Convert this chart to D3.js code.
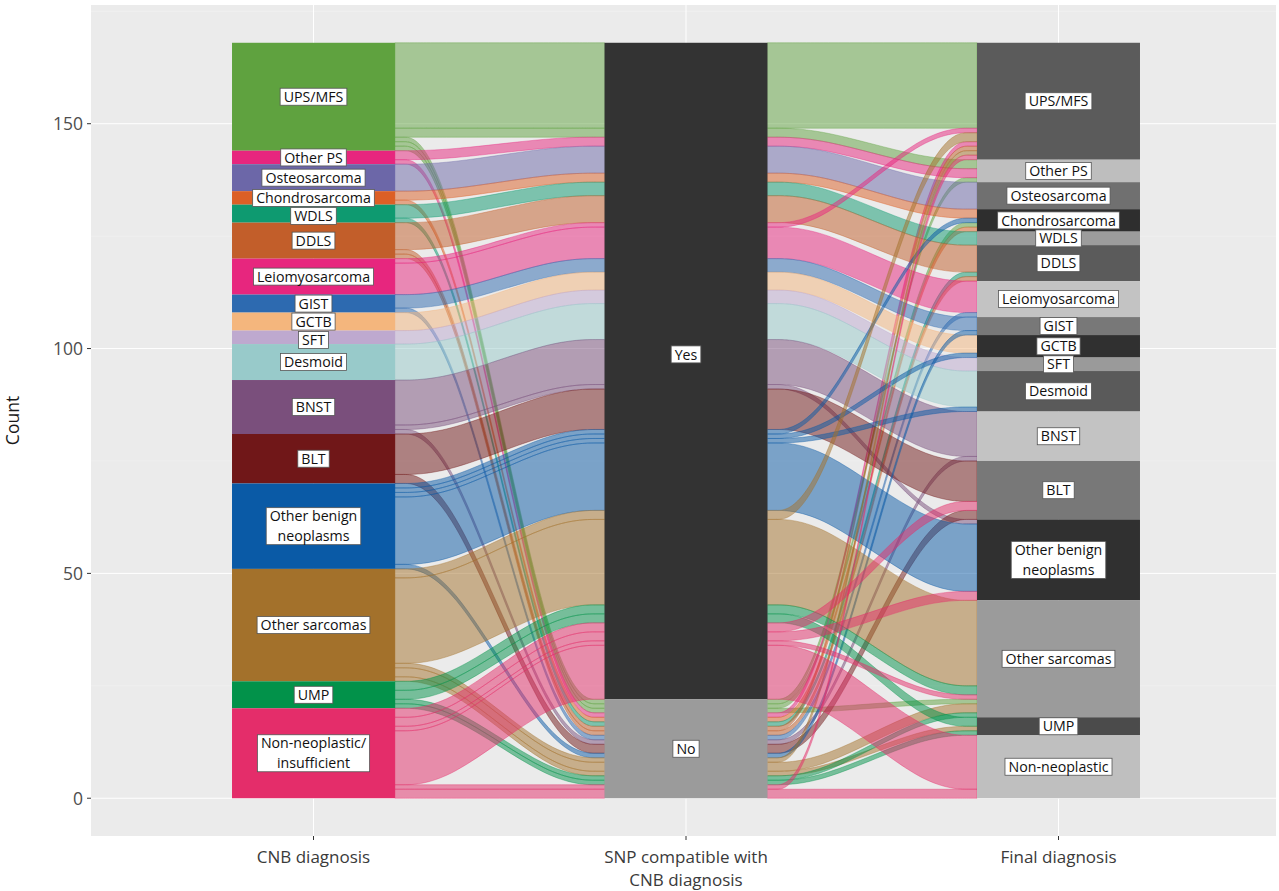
<!DOCTYPE html>
<html>
<head>
<meta charset="utf-8">
<script src="https://cdn.jsdelivr.net/npm/d3@7"></script>
<style>
  body { margin: 0; background: #ffffff; }
  svg text { font-family: "Open Sans", "Noto Sans", sans-serif; }
</style>
</head>
<body>
<svg id="chart" width="1279" height="891"></svg>
<script>
// ---- Axes (x positions of the three strata columns) ----
const axisNames = ["CNB diagnosis", "SNP compatible with\nCNB diagnosis", "Final diagnosis"];

// ---- Stratum levels, top to bottom ----
const cnbLevels = ["UPS/MFS", "Other PS", "Osteosarcoma", "Chondrosarcoma", "WDLS", "DDLS",
  "Leiomyosarcoma", "GIST", "GCTB", "SFT", "Desmoid", "BNST", "BLT",
  "Other benign neoplasms", "Other sarcomas", "UMP", "Non-neoplastic/insufficient"];
const snpLevels = ["Yes", "No"];
const finalLevels = ["UPS/MFS", "Other PS", "Osteosarcoma", "Chondrosarcoma", "WDLS", "DDLS",
  "Leiomyosarcoma", "GIST", "GCTB", "SFT", "Desmoid", "BNST", "BLT",
  "Other benign neoplasms", "Other sarcomas", "UMP", "Non-neoplastic"];

// ---- Colours ----
const cnbColors = ["#5FA23F", "#E7267E", "#6C67A8", "#DC5F26", "#0E9A70", "#C25E2A",
  "#E7267E", "#2D6AB0", "#F4B67D", "#BEA9CF", "#98CACA", "#7A4F7C", "#701718",
  "#0A5AA6", "#A3712B", "#02924A", "#E42D6A"];
const snpGrays = ["#333333", "#9B9B9B"];
const finalGrays = ["#5B5B5B", "#BEBEBE", "#707070", "#2E2E2E", "#9C9C9C", "#5B5B5B",
  "#C3C3C3", "#787878", "#303030", "#9A9A9A", "#5A5A5A", "#C3C3C3", "#787878",
  "#303030", "#9B9B9B", "#4B4B4B", "#BFBFBF"];

// ---- Cases: [CNB diagnosis, final diagnosis, count] ----
// SNP profile compatible with the CNB diagnosis
const compatibleCases = [
  ["UPS/MFS", "UPS/MFS", 19],
  ["UPS/MFS", "Other PS", 2],
  ["Other PS", "Other PS", 2],
  ["Osteosarcoma", "Osteosarcoma", 6],
  ["Chondrosarcoma", "Chondrosarcoma", 2],
  ["WDLS", "WDLS", 3],
  ["DDLS", "DDLS", 6],
  ["Leiomyosarcoma", "UPS/MFS", 1],
  ["Leiomyosarcoma", "Leiomyosarcoma", 7],
  ["GIST", "GIST", 3],
  ["GCTB", "GCTB", 4],
  ["SFT", "SFT", 3],
  ["Desmoid", "Desmoid", 8],
  ["BNST", "BNST", 10],
  ["BNST", "Other benign neoplasms", 1],
  ["BLT", "BLT", 9],
  ["Other benign neoplasms", "Chondrosarcoma", 1],
  ["Other benign neoplasms", "GCTB", 1],
  ["Other benign neoplasms", "Desmoid", 1],
  ["Other benign neoplasms", "Other benign neoplasms", 15],
  ["Other sarcomas", "UPS/MFS", 2],
  ["Other sarcomas", "Other sarcomas", 19],
  ["UMP", "Other sarcomas", 2],
  ["UMP", "UMP", 2],
  ["Non-neoplastic/insufficient", "BLT", 2],
  ["Non-neoplastic/insufficient", "Other benign neoplasms", 2],
  ["Non-neoplastic/insufficient", "Other sarcomas", 1],
  ["Non-neoplastic/insufficient", "Non-neoplastic", 12]
];
// SNP profile not compatible with the CNB diagnosis
const incompatibleCases = [
  ["UPS/MFS", "Other PS", 1],
  ["UPS/MFS", "Chondrosarcoma", 1],
  ["UPS/MFS", "Other sarcomas", 1],
  ["Other PS", "UPS/MFS", 1],
  ["Chondrosarcoma", "Chondrosarcoma", 1],
  ["WDLS", "DDLS", 1],
  ["DDLS", "UPS/MFS", 1],
  ["DDLS", "DDLS", 1],
  ["GIST", "Leiomyosarcoma", 1],
  ["BNST", "BNST", 1],
  ["BLT", "BLT", 2],
  ["Other benign neoplasms", "GIST", 1],
  ["Other sarcomas", "UPS/MFS", 1],
  ["Other sarcomas", "Other sarcomas", 2],
  ["Other sarcomas", "UMP", 1],
  ["UMP", "Other sarcomas", 1],
  ["UMP", "UMP", 1],
  ["Non-neoplastic/insufficient", "UPS/MFS", 1],
  ["Non-neoplastic/insufficient", "Non-neoplastic", 2]
];

const yTicks = [0, 50, 100, 150];
const yMinor = [25, 75, 125, 175];
const yTitle = "Count";

// Label line breaks for long stratum names
const labelLines = {
  "Other benign neoplasms": ["Other benign", "neoplasms"],
  "Non-neoplastic/insufficient": ["Non-neoplastic/", "insufficient"]
};
// Labels nudged off their stratum centre ("axis:level" -> count value)
const labelValueOverride = { "1:Yes": 98.7, "0:WDLS": 129.5, "0:SFT": 101.9 };

// ---------------------------------------------------------------
const svg = d3.select("#chart");
const flows = [];
compatibleCases.forEach(([c, f, n]) => flows.push({ cnb: c, snp: "Yes", fin: f, n }));
incompatibleCases.forEach(([c, f, n]) => flows.push({ cnb: c, snp: "No", fin: f, n }));

const total = d3.sum(flows, d => d.n);
const panel = { left: 91, right: 1276, top: 5, bottom: 836 };
const y = d3.scaleLinear().domain([-0.05 * total, 1.05 * total]).range([panel.bottom, panel.top]);
const x = d3.scaleLinear().domain([1, 3]).range([313.5, 1058.5]);
const stratWidth = 0.4375; // in axis units
const halfW = (x(2) - x(1)) * stratWidth / 2;

const axes = [
  { key: "cnb", levels: cnbLevels, sortBy: ["snp", "fin"] },
  { key: "snp", levels: snpLevels, sortBy: ["cnb", "fin"] },
  { key: "fin", levels: finalLevels, sortBy: ["snp", "cnb"] }
];
const levelIndex = {
  cnb: new Map(cnbLevels.map((d, i) => [d, i])),
  snp: new Map(snpLevels.map((d, i) => [d, i])),
  fin: new Map(finalLevels.map((d, i) => [d, i]))
};

// Stack strata and lodes (top to bottom)
const strata = [];
axes.forEach((ax, ai) => {
  let cum = total;
  ax.levels.forEach((lvl, li) => {
    const members = flows.filter(f => f[ax.key] === lvl);
    const t = d3.sum(members, f => f.n);
    if (t === 0) return;
    strata.push({ axis: ai, level: lvl, li, top: cum, bottom: cum - t });
    members.sort((a, b) => {
      for (const k of ax.sortBy) {
        const d = levelIndex[k].get(a[k]) - levelIndex[k].get(b[k]);
        if (d !== 0) return d;
      }
      return 0;
    });
    let c = cum;
    members.forEach(f => {
      f.pos = f.pos || [];
      f.pos[ai] = { top: c, bottom: c - f.n };
      c -= f.n;
    });
    cum -= t;
  });
});

// ---- Panel & grid ----
svg.append("rect")
  .attr("x", panel.left).attr("y", panel.top)
  .attr("width", panel.right - panel.left).attr("height", panel.bottom - panel.top)
  .attr("fill", "#EBEBEB");

const grid = svg.append("g");
grid.selectAll("line.minor").data(yMinor.filter(v => y(v) > panel.top)).join("line")
  .attr("x1", panel.left).attr("x2", panel.right)
  .attr("y1", d => y(d)).attr("y2", d => y(d))
  .attr("stroke", "#F4F4F4").attr("stroke-width", 0.5);
grid.selectAll("line.major").data(yTicks).join("line")
  .attr("x1", panel.left).attr("x2", panel.right)
  .attr("y1", d => y(d)).attr("y2", d => y(d))
  .attr("stroke", "#FFFFFF").attr("stroke-width", 1);
grid.selectAll("line.vx").data([1, 2, 3]).join("line")
  .attr("x1", d => x(d)).attr("x2", d => x(d))
  .attr("y1", panel.top).attr("y2", panel.bottom)
  .attr("stroke", "#FFFFFF").attr("stroke-width", 1);

// ---- Flows ----
const area = d3.area()
  .x(d => d.x).y0(d => y(d.b)).y1(d => y(d.t))
  .curve(d3.curveBasis);
const knot = 0.25;
const flowG = svg.append("g");
const drawOrder = flows.slice().sort((a, b) => b.pos[0].top - a.pos[0].top);
drawOrder.forEach(f => {
  const color = cnbColors[levelIndex.cnb.get(f.cnb)];
  for (let i = 0; i < 2; i++) {
    const xa = x(i + 1) + halfW, xb = x(i + 2) - halfW;
    const dx = xb - xa;
    const pa = f.pos[i], pb = f.pos[i + 1];
    const pts = [
      { x: xa, t: pa.top, b: pa.bottom },
      { x: xa + dx * knot, t: pa.top, b: pa.bottom },
      { x: xb - dx * knot, t: pb.top, b: pb.bottom },
      { x: xb, t: pb.top, b: pb.bottom }
    ];
    flowG.append("path")
      .attr("d", area(pts))
      .attr("fill", color).attr("fill-opacity", 0.5)
      .attr("stroke", color).attr("stroke-opacity", 0.55).attr("stroke-width", 0.7);
  }
});

// ---- Strata ----
const strataG = svg.append("g");
strata.forEach(s => {
  let fill;
  if (s.axis === 0) fill = cnbColors[s.li];
  else if (s.axis === 1) fill = snpGrays[s.li];
  else fill = finalGrays[s.li];
  strataG.append("rect")
    .attr("x", x(s.axis + 1) - halfW).attr("y", y(s.top))
    .attr("width", halfW * 2).attr("height", y(s.bottom) - y(s.top))
    .attr("fill", fill);
});

// ---- Stratum labels ----
const labelG = svg.append("g");
const fontSize = 14.2, lineH = 20, boxPadY = 1.5, boxPadX = 3.5;
strata.forEach(s => {
  const lines = labelLines[s.level] || [s.level];
  const key = s.axis + ":" + s.level;
  const v = labelValueOverride[key] !== undefined ? labelValueOverride[key] : (s.top + s.bottom) / 2;
  const cx = x(s.axis + 1), cy = y(v);
  const g = labelG.append("g");
  const box = g.append("rect").attr("fill", "#FFFFFF").attr("stroke", "#555555").attr("stroke-width", 0.8);
  let maxW = 0;
  lines.forEach((ln, k) => {
    const t = g.append("text")
      .attr("x", cx)
      .attr("y", cy + (k - (lines.length - 1) / 2) * lineH)
      .attr("dy", "0.36em")
      .attr("text-anchor", "middle")
      .attr("font-size", fontSize)
      .attr("fill", "#111111")
      .text(ln);
    maxW = Math.max(maxW, t.node().getComputedTextLength());
  });
  const bh = (lines.length - 1) * lineH + 14 + 2 * boxPadY;
  const bw = maxW + 2 * boxPadX;
  box.attr("x", cx - bw / 2).attr("y", cy - bh / 2).attr("width", bw).attr("height", bh);
});

// ---- Y axis ----
const yAxisG = svg.append("g");
yAxisG.selectAll("line").data(yTicks).join("line")
  .attr("x1", panel.left - 4).attr("x2", panel.left)
  .attr("y1", d => y(d)).attr("y2", d => y(d))
  .attr("stroke", "#333333").attr("stroke-width", 1);
yAxisG.selectAll("text").data(yTicks).join("text")
  .attr("x", panel.left - 8).attr("y", d => y(d)).attr("dy", "0.36em")
  .attr("text-anchor", "end").attr("font-size", 17.5).attr("fill", "#4D4D4D")
  .text(d => d);
svg.append("text")
  .attr("transform", `translate(19,${(panel.top + panel.bottom) / 2}) rotate(-90)`)
  .attr("text-anchor", "middle").attr("font-size", 17.5).attr("fill", "#1A1A1A")
  .text(yTitle);

// ---- X axis ----
const xAxisG = svg.append("g");
axisNames.forEach((name, i) => {
  const cx = x(i + 1);
  xAxisG.append("line")
    .attr("x1", cx).attr("x2", cx).attr("y1", panel.bottom).attr("y2", panel.bottom + 4)
    .attr("stroke", "#333333").attr("stroke-width", 1);
  name.split("\n").forEach((ln, k) => {
    xAxisG.append("text")
      .attr("x", cx).attr("y", 863 + k * 23)
      .attr("text-anchor", "middle").attr("font-size", 17).attr("fill", "#3A3A3A")
      .text(ln);
  });
});
</script>
</body>
</html>
